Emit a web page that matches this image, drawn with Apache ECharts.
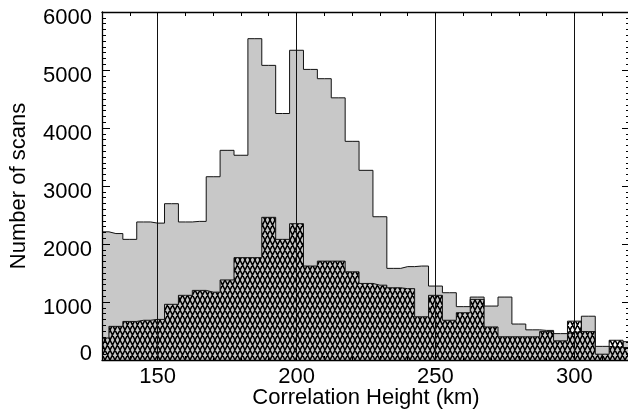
<!DOCTYPE html>
<html>
<head>
<meta charset="utf-8">
<script src="https://cdn.jsdelivr.net/npm/echarts@6/dist/echarts.min.js"></script>
<style>
html,body{margin:0;padding:0;background:#fff;}
#chart{width:628px;height:412px;}
</style>
</head>
<body>
<div id="chart"></div>
<script>
// Bin centres (km), 5 km bins
const binCenters = [130,135,140,145,150,155,160,165,170,175,180,185,190,195,200,205,210,215,220,225,230,235,240,245,250,255,260,265,270,275,280,285,290,295,300,305,310,315,320];
// All scans (grey histogram)
const totalScans = [2210,2180,2080,2380,2360,2695,2380,2390,3160,3615,3530,5540,5080,4250,5340,5010,4850,4520,3770,3270,2470,1580,1610,1620,1275,1160,920,1085,930,1085,620,520,510,455,480,755,235,220,316];
// Subset (hatched histogram)
const subsetScans = [380,580,665,685,700,960,1115,1200,1170,1380,1765,1765,2460,2080,2350,1620,1705,1705,1520,1320,1290,1245,1230,745,1115,685,815,1045,570,400,400,400,490,330,670,490,100,340,215];
// Reference lines and tick labels
const refLines = [150,200,250,300];
const xLabelValues = [150,200,250,300];

const FONT = "'Liberation Sans', Arial, Helvetica, sans-serif";

function makeHatch(){
  const w = 10, h = 20;
  const c = document.createElement('canvas');
  c.width = w; c.height = h;
  const ctx = c.getContext('2d');
  ctx.strokeStyle = '#000';
  ctx.lineWidth = 1.5;
  ctx.beginPath();
  for (let k = -6; k <= 6; k++) {
    const x0 = k * 5;
    ctx.moveTo(x0, 0); ctx.lineTo(x0 + 10, 20);
    ctx.moveTo(x0, 0); ctx.lineTo(x0 - 10, 20);
  }
  ctx.stroke();
  return c;
}

const chart = echarts.init(document.getElementById('chart'), null, {renderer:'canvas'});
const pair = (arr) => binCenters.map((x,i)=>[x, arr[i]]);

const axisLineStyle = {color:'#000', width:1.3};
chart.setOption({
  animation:false,
  backgroundColor:'#fff',
  grid:{left:102, right:-2, top:12, bottom:52, containLabel:false, outerBoundsMode:'none'},
  xAxis:[{
    type:'value', min:130, max:320, interval:10, position:'bottom', z:10,
    axisLine:{show:true, onZero:false, lineStyle:axisLineStyle},
    axisTick:{show:true, inside:true, length:4, lineStyle:{color:'#000'}},
    axisLabel:{show:true, margin:6, color:'#000', fontSize:22, fontFamily:FONT,
      formatter:(v)=> xLabelValues.indexOf(v)>=0 ? String(v) : ''},
    splitLine:{show:false},
    name:'Correlation Height (km)', nameLocation:'middle', nameGap:27, nameMoveOverlap:false,
    nameTextStyle:{color:'#000', fontSize:22, fontFamily:FONT}
  },{
    type:'value', min:130, max:320, interval:10, position:'top', z:10,
    axisLine:{show:true, onZero:false, lineStyle:axisLineStyle},
    axisTick:{show:true, inside:true, length:4, lineStyle:{color:'#000'}},
    axisLabel:{show:false}, splitLine:{show:false}
  }],
  yAxis:[{
    type:'value', min:0, max:6000, interval:1000, position:'left', z:10,
    axisLine:{show:true, onZero:false, lineStyle:axisLineStyle},
    axisTick:{show:true, inside:true, length:8, lineStyle:{color:'#000'}},
    minorTick:{show:true, splitNumber:10, length:4, lineStyle:{color:'#000'}},
    axisLabel:{show:true, margin:10, color:'#000', fontSize:22, fontFamily:FONT,
      verticalAlign:'top', lineHeight:12, verticalAlignMinLabel:'bottom',
      formatter:(v)=>String(v)},
    splitLine:{show:false}, minorSplitLine:{show:false},
    name:'Number of scans', nameLocation:'middle', nameGap:72, nameRotate:90, nameMoveOverlap:false,
    nameTextStyle:{color:'#000', fontSize:22, fontFamily:FONT}
  },{
    type:'value', min:0, max:6000, interval:1000, position:'right', z:10,
    axisLine:{show:true, onZero:false, lineStyle:axisLineStyle},
    axisTick:{show:true, inside:true, length:8, lineStyle:{color:'#000'}},
    minorTick:{show:true, splitNumber:10, length:4, lineStyle:{color:'#000'}},
    axisLabel:{show:false}, splitLine:{show:false}, minorSplitLine:{show:false}
  }],
  series:[{
    type:'line', name:'All', step:'middle', symbol:'none', xAxisIndex:0, yAxisIndex:0,
    data:pair(totalScans),
    lineStyle:{color:'#111', width:1},
    areaStyle:{color:'#c8c8c8', opacity:1},
    z:2
  },{
    type:'line', name:'Subset', step:'middle', symbol:'none', xAxisIndex:0, yAxisIndex:0,
    data:pair(subsetScans),
    lineStyle:{color:'#111', width:1},
    areaStyle:{color:{image:makeHatch(), repeat:'repeat'}, opacity:1},
    z:3,
    markLine:{
      silent:true, symbol:['none','none'], label:{show:false},
      lineStyle:{color:'#111', width:1, type:'solid'},
      data: refLines.map(v=>({xAxis:v}))
    }
  },{
    type:'line', name:'frame', xAxisIndex:1, yAxisIndex:1, data:[], symbol:'none'
  }]
});
</script>
</body>
</html>
